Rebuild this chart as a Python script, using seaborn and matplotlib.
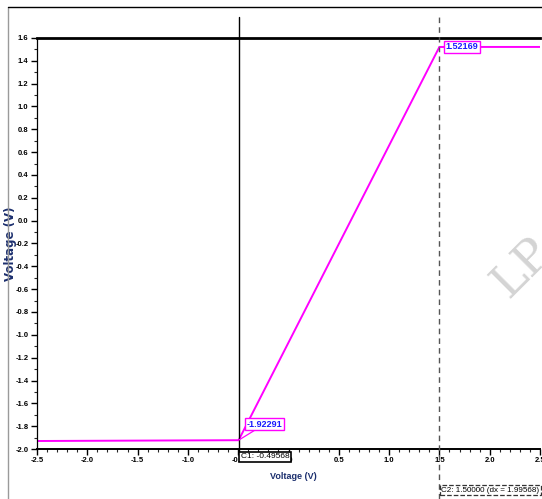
import matplotlib
matplotlib.use("Agg")
import matplotlib.pyplot as plt
from matplotlib.lines import Line2D
from matplotlib.ticker import MultipleLocator, FuncFormatter
import numpy as np
import pandas as pd
import seaborn as sns

# Transfer curve: output voltage versus input voltage
v_in = [-2.5, -0.49568, 1.5, 2.5]
v_out = [-1.93, -1.92291, 1.52169, 1.52169]

cursor_c1 = -0.49568
cursor_c2 = 1.50000
c1_value = -1.92291
c2_value = 1.52169

x_ticks = [-2.5, -2.0, -1.5, -1.0, -0.5, 0.0, 0.5, 1.0, 1.5, 2.0, 2.5]
y_ticks = [1.6, 1.4, 1.2, 1.0, 0.8, 0.6, 0.4, 0.2, 0.0, -0.2, -0.4, -0.6, -0.8,
           -1.0, -1.2, -1.4, -1.6, -1.8, -2.0]

sns.set_style("ticks")
plt.rcParams['font.family'] = ['Liberation Sans Narrow', 'Liberation Sans', 'DejaVu Sans']

df = pd.DataFrame({"Vin": v_in, "Vout": v_out})

W, H = 542, 499
fig = plt.figure(figsize=(W / 100, H / 100), dpi=100)
fig.patch.set_facecolor("white")
ax = fig.add_axes([37 / W, 50 / H, 503 / W, 411 / H])

sns.lineplot(data=df, x="Vin", y="Vout", ax=ax, color="#ff00ff", lw=1.4)

ax.set_xlim(-2.5, 2.5)
ax.set_ylim(-2.0, 1.6)
ax.set_xticks(x_ticks)
ax.set_yticks(y_ticks)
ax.xaxis.set_minor_locator(MultipleLocator(0.1))
ax.yaxis.set_minor_locator(MultipleLocator(0.1))
ax.xaxis.set_major_formatter(FuncFormatter(lambda v, p: f"{v:.1f}"))
ax.yaxis.set_major_formatter(FuncFormatter(lambda v, p: f"{v:.1f}"))
ax.tick_params(axis="both", which="major", length=4, width=1.0, direction="out",
               labelsize=5.5, pad=2, colors="black")
ax.tick_params(axis="both", which="minor", length=2, width=0.8, direction="out")
for lab in ax.get_xticklabels() + ax.get_yticklabels():
    lab.set_fontweight("bold")

for side in ("left", "bottom"):
    ax.spines[side].set_color("black")
ax.spines["left"].set_linewidth(0.9)
ax.spines["bottom"].set_linewidth(1.4)
ax.spines["top"].set_visible(True)
ax.spines["top"].set_linewidth(2.0)
ax.spines["top"].set_color("black")
ax.spines["right"].set_visible(False)

navy = "#1c2f6e"
ax.set_xlabel("Voltage (V)", fontsize=6.5, fontweight="bold", color=navy)
ax.set_ylabel("Voltage (V)", fontsize=8.5, fontweight="bold", color=navy,
              family="DejaVu Sans")
ax.xaxis.set_label_coords((293 - 37) / 503, -(472 - 449) / 411)
ax.yaxis.set_label_coords(-(37 - 17) / 503, (449 - 244) / 411)

# Cursors
ax.axvline(cursor_c1, ymin=-(452 - 449) / 411, ymax=(449 - 17) / 411,
           color="black", lw=1.0, clip_on=False, zorder=4)
ax.axvline(cursor_c2, ymin=-(499 - 449) / 411, ymax=(449 - 17) / 411,
           color="#555555", lw=1.0, ls=(0, (4, 3)), clip_on=False, zorder=4)

# Value readouts at the cursor crossings
val_box = dict(boxstyle="square,pad=0.15", fc="white", ec="#ff00ff", lw=1.0)
ax.annotate(f"{c1_value:.5f}", xy=(cursor_c1, c1_value), xytext=(8, 16),
            textcoords="offset pixels", ha="left", va="center",
            fontsize=6.5, fontweight="bold", color="#1a1aff", bbox=val_box,
            arrowprops=dict(arrowstyle="-", color="#ff00ff", lw=0.9,
                            shrinkA=0, shrinkB=0), zorder=6)
ax.annotate(f"{c2_value:.5f}", xy=(cursor_c2, c2_value), xytext=(6, 0),
            textcoords="offset pixels", ha="left", va="center",
            fontsize=6.5, fontweight="bold", color="#1a1aff", bbox=val_box,
            arrowprops=dict(arrowstyle="-", color="#ff00ff", lw=0.9,
                            shrinkA=0, shrinkB=0), zorder=6)

# Cursor position boxes
ax.annotate(f"C1: {cursor_c1:.5f}", xy=(cursor_c1, -2.0), xytext=(2, -8),
            textcoords="offset pixels", ha="left", va="center",
            fontsize=6.0, color="black", annotation_clip=False,
            bbox=dict(boxstyle="square,pad=0.15", fc="white", ec="black", lw=1.2),
            zorder=7)
ax.annotate(f"C2: {cursor_c2:.5f} (dx = {cursor_c2 - cursor_c1:.5f})",
            xy=(cursor_c2, -2.0), xytext=(2, -41),
            textcoords="offset pixels", ha="left", va="center",
            fontsize=5.8, color="black", annotation_clip=False,
            bbox=dict(boxstyle="square,pad=0.2", fc="white", ec="#333333",
                      lw=0.9, ls="--"),
            zorder=7)

# Window frame
fig.add_artist(Line2D([8 / W, 8 / W], [0, 1 - 7 / H], color="#9a9a9a", lw=1.0))
fig.add_artist(Line2D([8 / W, 1], [1 - 7 / H, 1 - 7 / H], color="black", lw=1.0))

# Faint watermark
fig.text(522 / W, 1 - 268 / H, "LP", fontsize=34, family="DejaVu Serif",
         color="#cfcfcf", rotation=45, ha="center", va="center", alpha=0.9,
         zorder=0)

fig.savefig("out.png", dpi=100, facecolor="white")
